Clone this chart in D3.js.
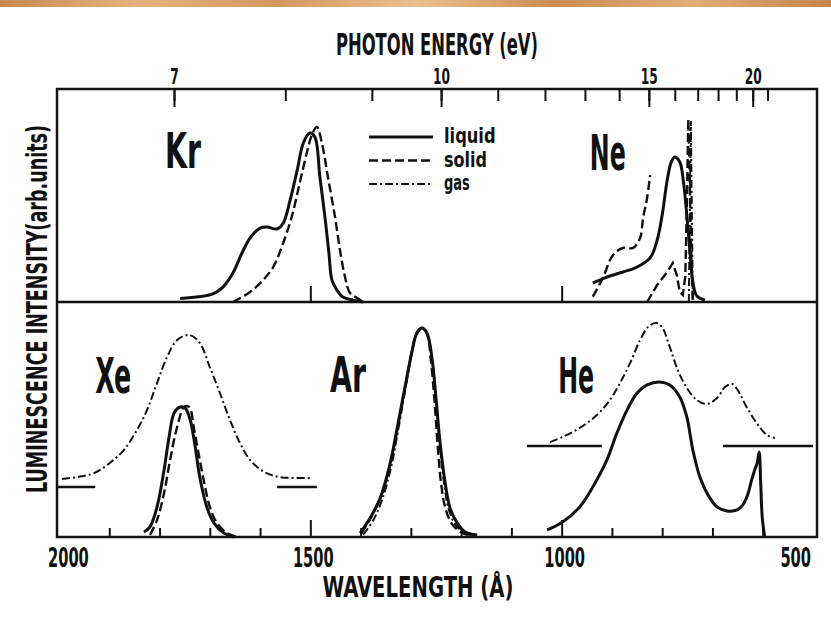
<!DOCTYPE html>
<html lang="en">
  <head>
    <meta charset="UTF-8" />
    <title>Rare gas luminescence</title>
    <style>
      body { margin: 0; background: #fff; }
      svg { display: block; }
      .frame { fill: none; stroke: #111; stroke-width: 2.5; }
      .liquid { fill: none; stroke: #111; stroke-width: 3; stroke-linejoin: round; }
      .solid { fill: none; stroke: #111; stroke-width: 2.4; stroke-dasharray: 9,4; }
      .gas { fill: none; stroke: #111; stroke-width: 2; stroke-dasharray: 8,3,2,3; }
      .zero { stroke: #111; stroke-width: 2.5; }
      .axis path { display: none; }
      .axis line { stroke: #111; stroke-width: 2; }
      text { font-family: "Liberation Sans Narrow", "DejaVu Sans Condensed", "Liberation Sans", sans-serif; font-weight: bold; fill: #111; }
    </style>
  </head>
  <body>
    <script src="https://cdn.jsdelivr.net/npm/d3@7/dist/d3.min.js"></script>
    <script>

    // h*c in eV * Angstrom, used to convert wavelength to photon energy
    var hc = 12398.4;

    // tick values
    var energyMajor = [7, 10, 15, 20];
    var energyMinor = [7, 8, 9, 10, 11, 12, 13, 14, 15, 16, 17, 18, 19, 20, 21];
    var wavelengthLabels = [2000, 1500, 1000, 500];
    var wavelengthMajor = [1500, 1000];
    var wavelengthMinor = [1900, 1800, 1700, 1600, 1400, 1300, 1200, 1100, 900, 800, 700, 600];

    // legend entries
    var legendNames = ["liquid", "solid", "gas"];

    // spectra: [wavelength (A), intensity (arb. units)]
    // top panel
    var krLiquid = [[1759,1.7],[1694,3.8],[1674,7],[1654,13.6],[1636,23],[1620,30],[1600,34.7],[1586,35.2],[1566,34.3],[1554,37],[1540,48],[1526,62],[1514,74.6],[1501,79.3],[1491,77.5],[1481,58.7],[1471,40],[1463,23],[1457,10.3],[1447,5.6],[1435,2.3],[1415,0.9],[1395,0]];
    var krSolid = [[1654,0],[1620,4.7],[1594,10.3],[1574,16.4],[1554,27.7],[1537,40],[1521,56],[1507,70],[1497,78.4],[1487,82.2],[1477,74.6],[1465,58.7],[1451,40],[1441,24.4],[1431,11.7],[1421,4.2],[1407,1.9],[1395,0]];

    var neLiquid = [[938,8.9],[910,11.7],[878,14.1],[850,16.4],[824,20.7],[810,29],[800,40.8],[790,57.3],[782,65.7],[775,68.1],[765,65.7],[757,55],[751,40.8],[745,24.4],[739,9.4],[731,2.8],[715,0.9]];
    var neSolidBroad = [[938,2.5],[918,11.3],[898,22],[878,25.4],[858,25.4],[844,30],[838,39.4],[830,48.8],[824,59.6]];
    var neSolidLine = [[830,0],[810,8],[790,14.1],[779,18.3],[771,12.7],[765,4.7],[759,3.3],[754,12],[751,45],[748,86],[745,55],[742,20],[739,0]];
    var neGas = [[747,0],[743,85],[739,0]];

    // bottom panel
    var xeLiquid = [[1831,2.1],[1819,4.3],[1805,12.8],[1791,28.5],[1781,42.6],[1771,52.8],[1759,55.3],[1749,54.9],[1739,49.8],[1729,38.3],[1720,25.5],[1706,12.8],[1692,6],[1672,1.7],[1652,0]];
    var xeSolid = [[1819,0.9],[1805,7.2],[1791,18.7],[1779,32.8],[1765,46.8],[1751,55.3],[1741,55.3],[1731,45.5],[1721,34],[1711,23],[1700,12.8],[1686,6],[1666,1.7],[1646,0]];
    var xeGas = [[1994,24.7],[1964,25.5],[1930,27.2],[1899,31.5],[1871,37],[1845,45.5],[1825,54],[1805,65.5],[1785,76.6],[1765,83.8],[1741,86],[1720,82.6],[1700,72.3],[1680,61.3],[1660,49.8],[1640,40],[1620,32.8],[1592,27.7],[1560,25.5],[1501,25.1]];
    var xeGasZero = 21.3;
    var xeZeroSpans = [[2004,1928],[1566,1487]];

    var arLiquid = [[1401,1.7],[1381,8.1],[1361,16.6],[1342,30.6],[1326,47.7],[1312,63.4],[1298,78.7],[1288,86.8],[1278,88.9],[1268,86.8],[1258,76.2],[1250,59.1],[1242,40.4],[1232,23.4],[1222,12.3],[1208,6],[1192,2.1],[1168,0.9]];
    var arSolid = [[1399,1.5],[1380,8],[1360,17],[1341,31],[1325,48],[1311,63.4],[1298,79],[1288,87],[1278,89],[1268,86.5],[1260,75],[1253,58],[1247,40],[1240,23],[1231,12],[1218,5.5],[1200,2],[1180,0.5]];
    var arGas = [[1395,1],[1375,7],[1357,16],[1339,30],[1324,47],[1311,63],[1298,78.5],[1288,86.5],[1278,88.5],[1268,86.5],[1258,76],[1250,59],[1243,40],[1234,23],[1225,12],[1212,5.5],[1195,2],[1175,0.5]];

    var heLiquid = [[1029,3],[998,6.4],[964,12.8],[938,21.3],[910,32.8],[890,44.3],[870,54],[850,61.3],[830,64.7],[805,66],[785,64.7],[765,59.6],[751,51.1],[739,37],[725,25.5],[711,18.7],[691,12.8],[671,11.1],[651,11.5],[640,13.6],[630,17.9],[622,24.3],[616,28.5],[611,31.5],[607,36.2],[604,23],[601,8.5],[596,0]];
    var heGas = [[1023,40.4],[998,42.6],[964,46.4],[930,51.9],[904,58.3],[884,65.5],[864,74],[844,83.8],[828,89.4],[811,91.1],[799,88.9],[785,80.9],[769,71.1],[751,63.4],[731,58.3],[711,56.6],[691,59.1],[675,63.8],[661,65.1],[650,62.6],[632,55.3],[612,48.5],[592,43.4],[576,42.1]];
    var heGasZero = 38.7;
    var heZeroSpans = [[1069,920],[679,500]];

    // canvas
    var w = 831,
        h = 621;

    var svg = d3.select("body")
                .append("svg")
                .attr("width", w)
                .attr("height", h);

    // wooden strip at the top of the photo
    var grad = svg.append("defs")
                  .append("linearGradient")
                  .attr("id", "wood");
    ["#c98a4f", "#e4b47f", "#d3985d", "#eac08e", "#cc8d52", "#e0ad76", "#c5864b"].forEach(function(c, i, a) {
        grad.append("stop").attr("offset", (i / (a.length - 1) * 100) + "%").attr("stop-color", c);
    });
    svg.append("rect")
       .attr("x", 0).attr("y", 0)
       .attr("width", w).attr("height", 7)
       .attr("fill", "url(#wood)");

    // scales
    var xScale = d3.scaleLinear()
      .domain([2004, 492])
      .range([57, 817]);

    // photon energy is 1/wavelength, so a power scale with exponent -1 lines up
    var eScale = d3.scalePow()
      .exponent(-1)
      .domain([hc / 2004, hc / 492])
      .range([57, 817]);

    var yTop = d3.scaleLinear()
      .domain([0, 100])
      .range([302, 89]);

    var yBottom = d3.scaleLinear()
      .domain([0, 100])
      .range([537, 302]);

    function lineFor(y, curve) {
        return d3.line()
          .x(function(d) { return xScale(d[0]); })
          .y(function(d) { return y(d[1]); })
          .curve(curve || d3.curveCatmullRom.alpha(0.5));
    }

    // frame
    svg.append("rect")
       .attr("class", "frame")
       .attr("x", xScale.range()[0])
       .attr("y", yTop.range()[1])
       .attr("width", xScale.range()[1] - xScale.range()[0])
       .attr("height", yBottom.range()[0] - yTop.range()[1]);

    svg.append("line")
       .attr("class", "frame")
       .attr("x1", xScale.range()[0])
       .attr("x2", xScale.range()[1])
       .attr("y1", yTop(0))
       .attr("y2", yTop(0));

    // top axis (photon energy)
    svg.append("g")
       .attr("class", "axis")
       .attr("transform", "translate(0," + yTop(100) + ")")
       .call(d3.axisTop(eScale).tickValues(energyMinor).tickSize(-12).tickFormat(""));

    var topAxis = svg.append("g")
       .attr("class", "axis")
       .attr("transform", "translate(0," + yTop(100) + ")")
       .call(d3.axisTop(eScale).tickValues(energyMajor).tickSize(-18).tickPadding(5));

    topAxis.selectAll("text")
       .style("font-size", "22px")
       .attr("textLength", function(d) { return String(d).length * 8.5; })
       .attr("lengthAdjust", "spacingAndGlyphs");

    // bottom axis (wavelength)
    svg.append("g")
       .attr("class", "axis")
       .attr("transform", "translate(0," + yBottom(0) + ")")
       .call(d3.axisBottom(xScale).tickValues(wavelengthMinor).tickSize(-9).tickFormat(""));

    svg.append("g")
       .attr("class", "axis")
       .attr("transform", "translate(0," + yBottom(0) + ")")
       .call(d3.axisBottom(xScale).tickValues(wavelengthMajor).tickSize(-17).tickFormat(""));

    // ticks on the middle line
    svg.append("g")
       .attr("class", "axis")
       .attr("transform", "translate(0," + yTop(0) + ")")
       .call(d3.axisBottom(xScale).tickValues(wavelengthMajor).tickSize(-16).tickFormat(""));

    // wavelength labels, the end ones are kept inside the frame
    svg.selectAll(".wl-label")
       .data(wavelengthLabels)
       .enter()
       .append("text")
       .attr("class", "wl-label")
       .attr("x", function(d, i) {
           if (i === 0) return xScale(d) - 11;
           if (i === wavelengthLabels.length - 1) return xScale(d) - 2;
           return xScale(d) + 3;
       })
       .attr("y", yBottom(0) + 30)
       .attr("text-anchor", function(d, i) {
           if (i === 0) return "start";
           if (i === wavelengthLabels.length - 1) return "end";
           return "middle";
       })
       .style("font-size", "26px")
       .attr("textLength", function(d) { return String(d).length * 10.2; })
       .attr("lengthAdjust", "spacingAndGlyphs")
       .text(function(d) { return d; });

    // axis titles
    svg.append("text")
       .attr("x", 437)
       .attr("y", 55)
       .attr("text-anchor", "middle")
       .style("font-size", "30px")
       .attr("textLength", 202)
       .attr("lengthAdjust", "spacingAndGlyphs")
       .text("PHOTON ENERGY (eV)");

    svg.append("text")
       .attr("x", 418)
       .attr("y", 597)
       .attr("text-anchor", "middle")
       .style("font-size", "29px")
       .attr("textLength", 191)
       .attr("lengthAdjust", "spacingAndGlyphs")
       .text("WAVELENGTH  (Å)");

    // smaller font stretched across, so the unsquashed text stays on the page
    svg.append("text")
       .attr("transform", "translate(47,309) rotate(-90) scale(1,1.45)")
       .attr("text-anchor", "middle")
       .style("font-size", "20px")
       .attr("textLength", 368)
       .attr("lengthAdjust", "spacingAndGlyphs")
       .text("LUMINESCENCE INTENSITY(arb.units)");

    // gas zero levels
    xeZeroSpans.forEach(function(s) {
        svg.append("line")
           .attr("class", "zero")
           .attr("x1", xScale(s[0])).attr("x2", xScale(s[1]))
           .attr("y1", yBottom(xeGasZero)).attr("y2", yBottom(xeGasZero));
    });
    heZeroSpans.forEach(function(s) {
        svg.append("line")
           .attr("class", "zero")
           .attr("x1", xScale(s[0])).attr("x2", xScale(s[1]))
           .attr("y1", yBottom(heGasZero)).attr("y2", yBottom(heGasZero));
    });

    // spectra
    var curves = [
        { data: krSolid, y: yTop, cls: "solid" },
        { data: krLiquid, y: yTop, cls: "liquid" },
        { data: neSolidBroad, y: yTop, cls: "solid" },
        { data: neSolidLine, y: yTop, cls: "solid", linear: true },
        { data: neGas, y: yTop, cls: "gas", linear: true },
        { data: neLiquid, y: yTop, cls: "liquid" },
        { data: xeGas, y: yBottom, cls: "gas" },
        { data: xeSolid, y: yBottom, cls: "solid" },
        { data: xeLiquid, y: yBottom, cls: "liquid" },
        { data: arGas, y: yBottom, cls: "gas" },
        { data: arSolid, y: yBottom, cls: "solid" },
        { data: arLiquid, y: yBottom, cls: "liquid" },
        { data: heGas, y: yBottom, cls: "gas" },
        { data: heLiquid, y: yBottom, cls: "liquid" }
    ];

    curves.forEach(function(c) {
        svg.append("path")
           .datum(c.data)
           .attr("class", c.cls)
           .attr("d", lineFor(c.y, c.linear ? d3.curveLinear : null));
    });

    // element names
    function element(name, lambda, value, y) {
        svg.append("text")
           .attr("x", xScale(lambda))
           .attr("y", y(value))
           .style("font-size", "50px")
           .attr("textLength", 36)
           .attr("lengthAdjust", "spacingAndGlyphs")
           .text(name);
    }
    element("Kr", 1789, 62.9, yTop);
    element("Ne", 944, 62, yTop);
    element("Xe", 1928, 61.3, yBottom);
    element("Ar", 1461, 61.7, yBottom);
    element("He", 1007, 61.3, yBottom);

    // legend
    var legend = svg.append("g")
       .attr("transform", "translate(369,137)");

    legend.selectAll("line")
       .data(legendNames)
       .enter()
       .append("line")
       .attr("class", function(d) { return d; })
       .attr("x1", 0)
       .attr("x2", 64)
       .attr("y1", function(d, i) { return i * 23.5; })
       .attr("y2", function(d, i) { return i * 23.5; });

    legend.selectAll("text")
       .data(legendNames)
       .enter()
       .append("text")
       .attr("x", 75)
       .attr("y", function(d, i) { return i * 23.5 + 6; })
       .style("font-size", "22px")
       .attr("textLength", function(d) { return d.length * 8.6; })
       .attr("lengthAdjust", "spacingAndGlyphs")
       .text(function(d) { return d; });

    </script>
  </body>
</html>
